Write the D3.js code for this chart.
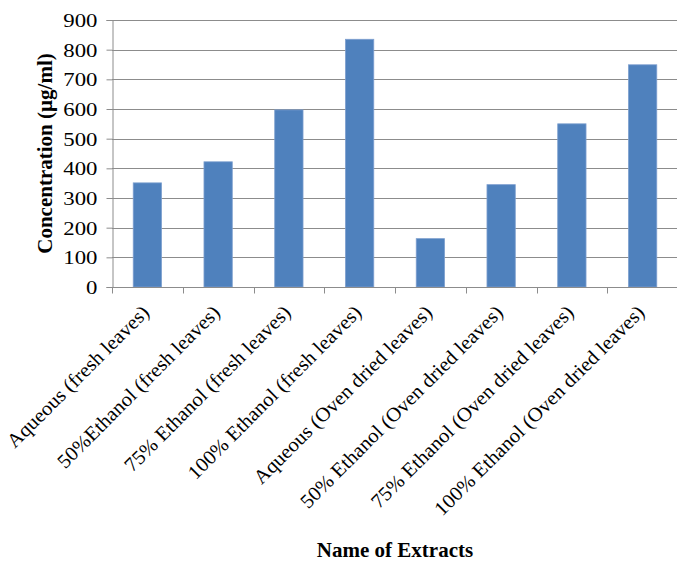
<!DOCTYPE html>
<html>
<head>
<meta charset="utf-8">
<script src="https://cdn.jsdelivr.net/npm/d3@7"></script>
<style>
  body { margin: 0; background: #fff; }
  text { font-family: "Liberation Serif", "Times New Roman", serif; fill: #000; }
</style>
</head>
<body>
<div id="chart"></div>
<script>
// data
var categories = [
  'Aqueous (fresh leaves)',
  '50%Ethanol (fresh leaves)',
  '75% Ethanol (fresh leaves)',
  '100% Ethanol (fresh leaves)',
  'Aqueous (Oven dried leaves)',
  '50% Ethanol (Oven dried leaves)',
  '75% Ethanol (Oven dried leaves)',
  '100% Ethanol  (Oven dried leaves)'
]
var concentrations = [351, 422, 597, 835, 163, 345, 550, 749]
var yTicks = [0, 100, 200, 300, 400, 500, 600, 700, 800, 900]

var W = 677, H = 562
var margin = { top: 20, right: -1, bottom: 275, left: 112 }
var width = W - margin.left - margin.right
var height = H - margin.top - margin.bottom

var svg = d3.select('#chart').append('svg')
    .attr('width', W)
    .attr('height', H)

var g = svg.append('g')
    .attr('transform', 'translate(' + margin.left + ',' + margin.top + ')')

var xScale = d3.scaleBand()
    .domain(categories)
    .range([0, width])
    .paddingInner(0.6)
    .paddingOuter(0.3)

var yScale = d3.scaleLinear()
    .domain([0, 900])
    .range([height, 0])

// gridlines
g.append('g')
    .selectAll('line')
    .data(yTicks.slice(1))
    .enter().append('line')
    .attr('x1', 0)
    .attr('x2', width)
    .attr('y1', function(d) { return Math.round(yScale(d)) + 0.5 })
    .attr('y2', function(d) { return Math.round(yScale(d)) + 0.5 })
    .attr('stroke', '#8c8c8c')
    .attr('stroke-width', 1)

// bars
g.selectAll('.bar')
    .data(concentrations)
    .enter().append('rect')
    .attr('class', 'bar')
    .attr('x', function(d, i) { return xScale(categories[i]) })
    .attr('y', function(d) { return yScale(d) })
    .attr('width', xScale.bandwidth())
    .attr('height', function(d) { return height - yScale(d) })
    .attr('fill', '#4f81bd')
    .attr('stroke', '#7d9fcf')
    .attr('stroke-width', 0.8)

// y axis
var yAxis = d3.axisLeft(yScale).tickValues(yTicks).tickSize(6).tickPadding(8)
var yg = g.append('g').attr('transform', 'translate(0.5,0)').call(yAxis)
yg.select('.domain').attr('stroke', '#8c8c8c')
yg.selectAll('.tick line').attr('stroke', '#8c8c8c')
yg.selectAll('.tick text')
    .attr('x', null)
    .attr('transform', 'translate(-15,0) scale(1.2,1)')
    .style('font-family', '"Liberation Serif", serif')
    .style('font-size', '19px')
    .attr('dy', '0.34em')

// x axis: ticks at category boundaries
var xg = g.append('g').attr('transform', 'translate(0,' + (Math.round(height) + 0.5) + ')')
xg.append('line')
    .attr('x1', 0).attr('x2', width)
    .attr('stroke', '#8c8c8c')
xg.selectAll('.xtick')
    .data(categories)
    .enter().append('line')
    .attr('class', 'xtick')
    .attr('x1', function(d, i) { return Math.round(i * width / categories.length) + 0.5 })
    .attr('x2', function(d, i) { return Math.round(i * width / categories.length) + 0.5 })
    .attr('y1', 0)
    .attr('y2', 6)
    .attr('stroke', '#8c8c8c')

// rotated category labels
xg.selectAll('.xlabel')
    .data(categories)
    .enter().append('text')
    .attr('class', 'xlabel')
    .attr('text-anchor', 'end')
    .attr('transform', function(d) {
      return 'translate(' + (xScale(d) + xScale.bandwidth() / 2 + 3) + ',26) rotate(-45) scale(1.04,1)'
    })
    .style('font-size', '20px')
    .text(function(d) { return d })

// axis titles
svg.append('text')
    .attr('transform', 'translate(52,' + (margin.top + height / 2) + ') rotate(-90)')
    .attr('text-anchor', 'middle')
    .style('font-size', '21px')
    .style('font-weight', 'bold')
    .text('Concentration (µg/ml)')

svg.append('text')
    .attr('x', margin.left + width / 2)
    .attr('y', 557)
    .attr('text-anchor', 'middle')
    .style('font-size', '21px')
    .style('font-weight', 'bold')
    .text('Name of Extracts')
</script>
</body>
</html>
